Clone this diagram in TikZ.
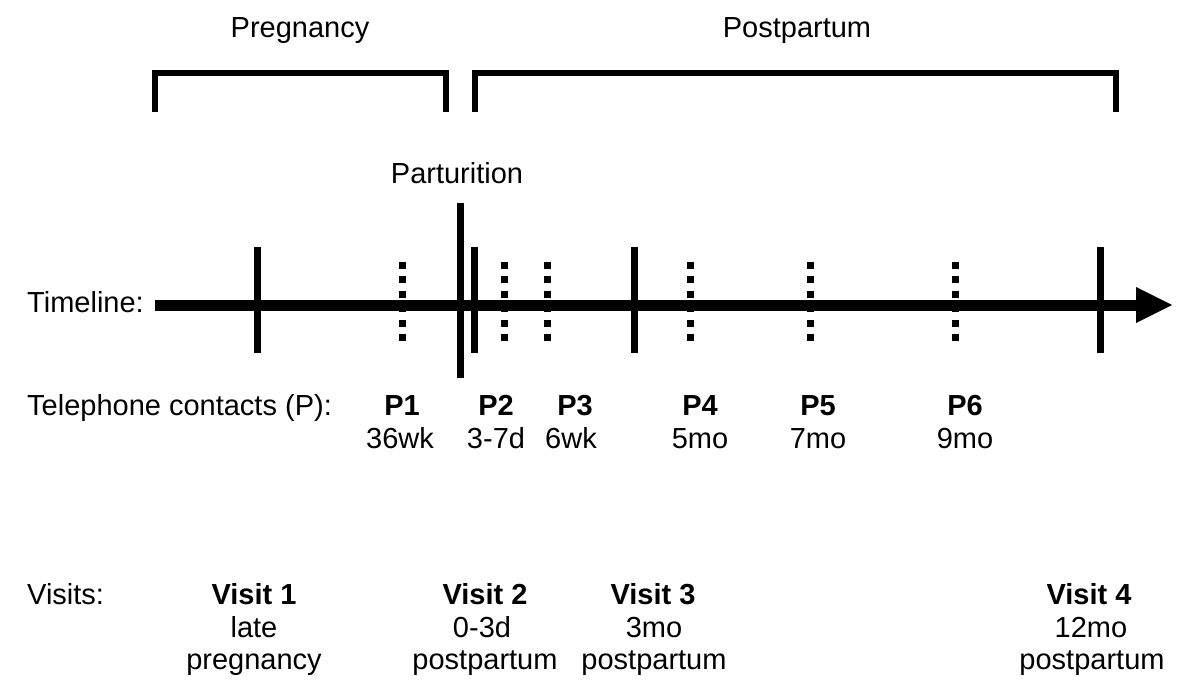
\documentclass[tikz,border=0pt]{standalone}
\usepackage{fontspec}
\setmainfont{Liberation Sans}
\begin{document}
\begin{tikzpicture}[x=1pt,y=-1pt,
  lbl/.style={inner sep=0pt, anchor=base, font=\fontsize{29}{33}\selectfont},
  lbll/.style={lbl, anchor=base west},
  blbl/.style={lbl, font=\fontsize{29}{33}\selectfont\bfseries},
  bracket/.style={line width=6pt, line join=miter},
  tick/.style={line width=7pt},
  dottick/.style={line width=7pt, dash pattern=on 7pt off 7.4pt},
  timeline/.style={line width=11pt}]
\useasboundingbox (0,0) rectangle (1200,696);
% brackets
\draw[bracket] (155,112) -- (155,73) -- (446,73) -- (446,112);
\draw[bracket] (475,112) -- (475,73) -- (1116,73) -- (1116,112);
\node[lbl] (preg) at (300,37) {Pregnancy};
\node[lbl] (post) at (797,37) {Postpartum};
\node[lbl] (part) at (457,183) {Parturition};
% timeline
\coordinate (tls) at (155,305);
\coordinate (tle) at (1138,305);
\draw[timeline] (tls) -- (tle);
\fill (1136,287) -- (1172,305) -- (1136,323) -- cycle;
\node[lbll] (tl) at (27,312) {Timeline:};
% solid ticks
\foreach \x in {257,474,634,1100} \draw[tick] (\x,247) -- (\x,353);
\draw[tick] (460,203) -- (460,378);
% dotted ticks
\foreach \x in {402,504,547,690,810,955} \draw[dottick] (\x,262) -- (\x,344);
% telephone contacts
\node[lbll] (tc) at (27,415) {Telephone contacts (P):};
\node[blbl] (p1) at (402,415) {P1};
\node[lbl] (p1t) at (400,448) {36wk};
\node[blbl] (p2) at (496,415) {P2};
\node[lbl] (p2t) at (496,448) {3-7d};
\node[blbl] (p3) at (575,415) {P3};
\node[lbl] (p3t) at (571,448) {6wk};
\node[blbl] (p4) at (700,415) {P4};
\node[lbl] (p4t) at (700,448) {5mo};
\node[blbl] (p5) at (818,415) {P5};
\node[lbl] (p5t) at (818,448) {7mo};
\node[blbl] (p6) at (965,415) {P6};
\node[lbl] (p6t) at (965,448) {9mo};
% visits
\node[lbll] (vs) at (27,604) {Visits:};
\node[blbl] (v1) at (254,604) {Visit 1};
\node[lbl] (v1a) at (254,637) {late};
\node[lbl] (v1b) at (254,669) {pregnancy};
\node[blbl] (v2) at (485,604) {Visit 2};
\node[lbl] (v2a) at (482,637) {0-3d};
\node[lbl] (v2b) at (485,669) {postpartum};
\node[blbl] (v3) at (653,604) {Visit 3};
\node[lbl] (v3a) at (654,637) {3mo};
\node[lbl] (v3b) at (654,669) {postpartum};
\node[blbl] (v4) at (1089,604) {Visit 4};
\node[lbl] (v4a) at (1091,637) {12mo};
\node[lbl] (v4b) at (1092,669) {postpartum};
\end{tikzpicture}
\end{document}
